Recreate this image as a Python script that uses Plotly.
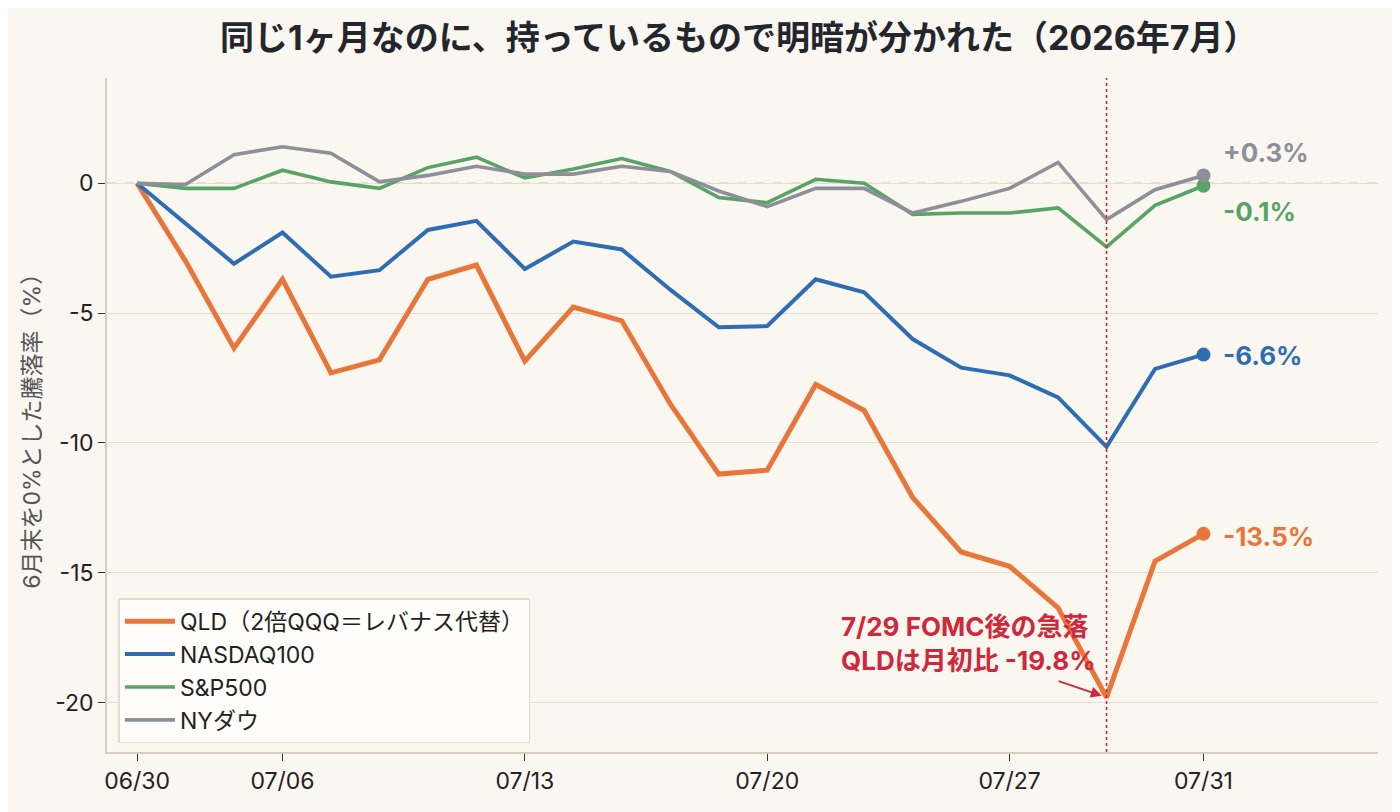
import plotly.graph_objects as go

# trading days of July 2026 (07/03 market holiday)
dates = ["06/30", "07/01", "07/02", "07/06", "07/07", "07/08", "07/09", "07/10",
         "07/13", "07/14", "07/15", "07/16", "07/17", "07/20", "07/21", "07/22",
         "07/23", "07/24", "07/27", "07/28", "07/29", "07/30", "07/31"]

qld = [0, -3.0, -6.35, -3.7, -7.3, -6.8, -3.7, -3.15, -6.85, -4.77, -5.3, -8.5,
       -11.2, -11.05, -7.75, -8.75, -12.1, -14.2, -14.75, -16.35, -19.8, -14.55, -13.5]
nasdaq = [0, -1.55, -3.1, -1.9, -3.6, -3.35, -1.8, -1.45, -3.3, -2.25, -2.55, -4.1,
          -5.55, -5.5, -3.7, -4.2, -6.0, -7.1, -7.4, -8.25, -10.15, -7.15, -6.6]
sp500 = [0, -0.2, -0.2, 0.5, 0.05, -0.2, 0.6, 1.0, 0.2, 0.55, 0.95, 0.45,
         -0.55, -0.75, 0.15, 0.0, -1.2, -1.15, -1.15, -0.95, -2.45, -0.85, -0.1]
dow = [0, -0.05, 1.1, 1.4, 1.15, 0.05, 0.3, 0.65, 0.35, 0.35, 0.65, 0.45,
       -0.3, -0.9, -0.2, -0.2, -1.15, -0.7, -0.2, 0.8, -1.4, -0.25, 0.3]

tick_labels = ["06/30", "07/06", "07/13", "07/20", "07/27", "07/31"]
end_labels = ["-13.5%", "-6.6%", "-0.1%", "+0.3%"]

names = ["QLD（2倍QQQ＝レバナス代替）", "NASDAQ100", "S&P500", "NYダウ"]
colors = ["#E8763A", "#2F6DB3", "#58A464", "#8D8F99"]
widths = [5, 4, 3.6, 3.6]
series = [qld, nasdaq, sp500, dow]

FONT = "Inter, Noto Sans CJK JP"
RED = "#D0283A"

x = list(range(len(dates)))
tick_vals = [dates.index(d) for d in tick_labels]
fomc = dates.index("07/29")

fig = go.Figure()
fig.add_hline(y=0, line=dict(color="#E0D6C6", width=1.8, dash="dash"), layer="below")

for name, ys, c, w in zip(names, series, colors, widths):
    fig.add_trace(go.Scatter(x=x, y=ys, mode="lines", name=name,
                             line=dict(color=c, width=w)))

# end markers
for ys, c in zip(series, colors):
    fig.add_trace(go.Scatter(x=[x[-1]], y=[ys[-1]], mode="markers", showlegend=False,
                             marker=dict(color=c, size=14), hoverinfo="skip"))

# end labels (nudged so the small ones don't overlap)
label_y = [qld[-1] - 0.1, nasdaq[-1] - 0.05, sp500[-1] - 1.0, dow[-1] + 0.9]
for lbl, ly, c in zip(end_labels, label_y, colors):
    fig.add_annotation(x=x[-1] + 0.37, y=ly, text=lbl, showarrow=False,
                       xanchor="left", yanchor="middle",
                       font=dict(size=26, color=c, family=FONT, weight="bold"))

fig.add_vline(x=fomc, line=dict(color=RED, width=1.6, dash="dot"))

# FOMC annotation
fig.add_annotation(x=fomc, y=qld[fomc], ax=fomc - 1.02, ay=qld[fomc] + 0.65,
                   axref="x", ayref="y", text="", showarrow=True,
                   arrowhead=2, arrowsize=1.1, arrowwidth=2, arrowcolor=RED,
                   standoff=5)
fig.add_annotation(x=fomc - 0.2, y=qld[fomc] + 0.78,
                   text="7/29 FOMC後の急落<br>QLDは月初比 -19.8%",
                   showarrow=False, xanchor="right", yanchor="bottom", align="left",
                   borderpad=0,
                   font=dict(size=26, color=RED, family=FONT, weight="bold"))

# y axis label placed by hand (sits a bit below the plot middle)
fig.add_annotation(x=-0.059, y=0.484, xref="paper", yref="paper",
                   text="6月末を0%とした騰落率（%）", textangle=-90, showarrow=False,
                   xanchor="center", yanchor="middle",
                   font=dict(size=23, color="#555", family=FONT))

fig.update_layout(
    width=1400, height=812,
    margin=dict(l=99, r=30, t=70, b=68),
    paper_bgcolor="#FAF6F0",
    plot_bgcolor="#FAF6F0",
    font=dict(family=FONT, size=23, color="#222"),
    title=dict(text="同じ1ヶ月なのに、持っているもので明暗が分かれた（2026年7月）",
               x=0.522, xanchor="center", y=0.963, yanchor="middle",
               font=dict(size=34, color="#23262D", family=FONT, weight="bold")),
    legend=dict(x=0.009, y=0.013, xanchor="left", yanchor="bottom",
                bgcolor="#FEFDFA", bordercolor="#E2DBCF", borderwidth=1.5,
                font=dict(size=23, color="#222"), itemwidth=50, tracegroupgap=2),
    showlegend=True,
)
fig.update_xaxes(range=[-0.62, 25.6], tickvals=tick_vals, ticktext=tick_labels,
                 showgrid=False, zeroline=False, showline=True, linecolor="#D6CEC0",
                 linewidth=1.8, ticks="outside", ticklen=7, tickcolor="#333",
                 tickfont=dict(size=23, color="#222"))
fig.update_yaxes(range=[-21.9, 4.05], tickvals=[-20, -15, -10, -5, 0],
                 ticktext=["-20", "-15", "-10", "-5", "0"],
                 showgrid=True, gridcolor="#E6DED0", gridwidth=1.4, zeroline=False,
                 showline=True, linecolor="#D6CEC0", linewidth=1.8,
                 ticks="outside", ticklen=7, tickcolor="#333",
                 tickfont=dict(size=23, color="#222"))

fig.write_html("out.html")
